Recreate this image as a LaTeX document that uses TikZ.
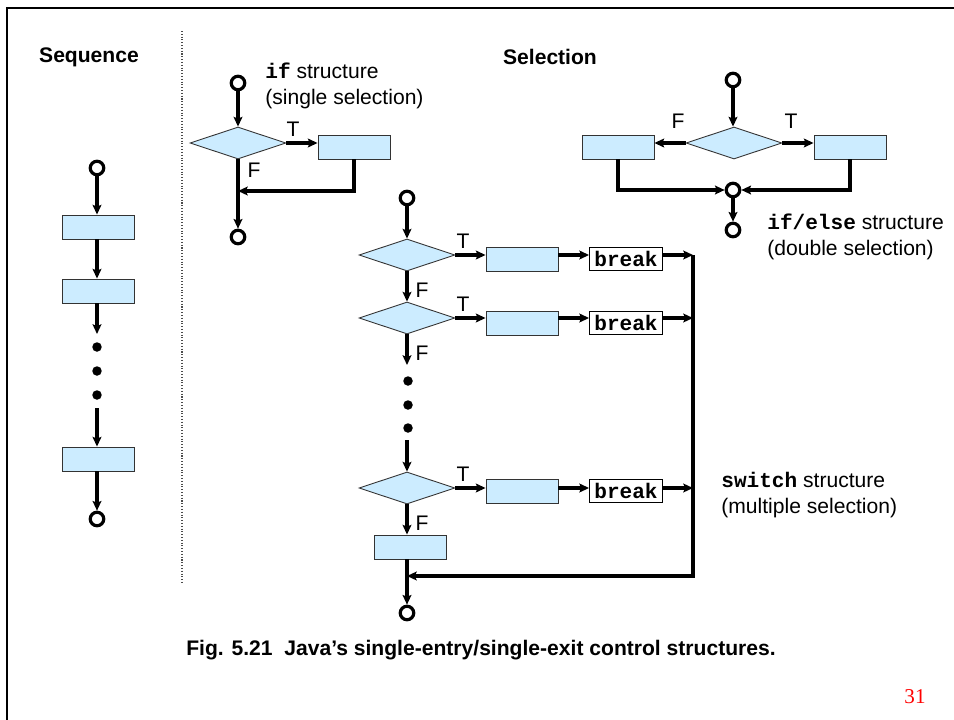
\documentclass[tikz,border=0pt]{standalone}
\usepackage{fontspec}
\setmainfont{Liberation Sans}
\setmonofont{Liberation Mono}
\newfontfamily\pagenumfont{Liberation Serif}
\usetikzlibrary{shapes.geometric,arrows.meta}
\definecolor{boxBlue}{HTML}{CCECFF}
\newcommand\slideSize{\fontsize{12}{14.5}\selectfont}
\tikzset{
  flow/.style={line width=1.8pt,-{Stealth[length=5.5pt,width=5pt,inset=1pt]}},
  term/.style={circle,draw,line width=1.8pt,minimum size=0.27cm,inner sep=0pt},
  act/.style={rectangle,draw=black!80,line width=0.5pt,fill=boxBlue,minimum width=1.44cm,minimum height=0.48cm,inner sep=0pt},
  cond/.style={diamond,draw=black!80,line width=0.5pt,fill=boxBlue,minimum width=1.92cm,minimum height=0.64cm,inner sep=0pt},
  brk/.style={rectangle,draw,line width=0.5pt,fill=white,font=\slideSize\ttfamily\bfseries,minimum width=1.46cm,minimum height=0.46cm,inner sep=0pt},
  dot/.style={circle,fill,inner sep=0pt,minimum size=0.19cm},
  note/.style={anchor=west,align=left,inner sep=0pt},
}

\begin{document}
\begin{tikzpicture}[x=0.02cm,y=-0.02cm,font=\slideSize]
\useasboundingbox (0,0) rectangle (954,720);
\draw[line width=1.7pt] (7,720) -- (7,8) -- (954,8);
\draw[black!70,densely dotted,line width=0.6pt] (182,31) -- (182,583);
\node[font=\slideSize\bfseries] (seqTitle) at (89,57) {Sequence};
\node[font=\slideSize\bfseries] (selTitle) at (550,57) {Selection};

% sequence
\node[term] (sc0) at (97,168) {};
\node[act] (sb1) at (98,227) {};
\node[act] (sb2) at (98,291) {};
\coordinate (sgapA) at (97,334);
\foreach \y [count=\i] in {347,371,395}
  \node[dot] (sd\i) at (97,\y) {};
\coordinate (sgapB) at (97,408);
\node[act] (sb3) at (98,459) {};
\node[term] (sc1) at (97,519) {};
\draw[flow] (sc0) -- (sc0 |- sb1.north);
\draw[flow] (sb1.south -| sc0) -- (sc0 |- sb2.north);
\draw[flow] (sb2.south -| sc0) -- (sgapA);
\draw[flow] (sgapB) -- (sc0 |- sb3.north);
\draw[flow] (sb3.south -| sc0) -- (sc1);

% if
\node[term] (ic0) at (238,83) {};
\node[cond] (id) at (238,143) {};
\node[act] (ib) at (354,147) {};
\node[term] (ic1) at (238,237) {};
\coordinate (ijoin) at (238,191);
\node[note] (iNote) at (265,86) {{\ttfamily\bfseries if} structure\\(single selection)};
\node (iT) at (293,129) {T};
\node (iF) at (254,170) {F};
\draw[flow] (ic0) -- (id.north);
\draw[flow] (id.east) -- (id.east -| ib.west);
\draw[flow] (id.south) -- (ic1);
\draw[flow] (ib.south) |- (ijoin);

% if/else
\node[term] (ec0) at (733,80) {};
\node[cond] (ed) at (734,143) {};
\node[act] (ebl) at (618,147) {};
\node[act] (ebr) at (850,147) {};
\node[term] (ec1) at (733,190) {};
\node[term] (ec2) at (733,230) {};
\node (eF) at (678,121) {F};
\node (eT) at (791,121) {T};
\node[note] (eNote) at (767,237) {{\ttfamily\bfseries if/else} structure\\(double selection)};
\draw[flow] (ec0) -- (ec0 |- ed.north);
\draw[flow] (ed.west) -- (ed.west -| ebl.east);
\draw[flow] (ed.east) -- (ed.east -| ebr.west);
\draw[flow] (ebl.south) |- (ec1);
\draw[flow] (ebr.south) |- (ec1);
\draw[flow] (ec1) -- (ec2);

% switch
\node[term] (wc0) at (407,198) {};
\foreach \y/\by [count=\i] in {255/259,318/323,488/491}{
  \node[cond] (wd\i) at (407,\y) {};
  \node[act] (wb\i) at (522,\by) {};
  \node[brk] (wk\i) at (626,\by) {break};
  \node (wT\i) at (463,\y-14) {T};
}
\node (wF1) at (422,290) {F};
\node (wF2) at (422,353) {F};
\node (wF3) at (422,523) {F};
\coordinate (wgapA) at (407,365);
\foreach \y [count=\i] in {381,405,428}
  \node[dot] (wdot\i) at (408,\y) {};
\coordinate (wgapB) at (407,440);
\node[act] (wb4) at (410,547) {};
\node[term] (wc1) at (407,613) {};
\coordinate (busTop) at (693,255);
\coordinate (busBot) at (693,576);
\node[note] (wNote) at (721,495) {{\ttfamily\bfseries switch} structure\\(multiple selection)};
\draw[flow] (wc0) -- (wd1.north);
\foreach \i in {1,2,3}{
  \draw[flow] (wd\i.east) -- (wd\i.east -| wb\i.west);
  \draw[flow] (wd\i.east -| wb\i.east) -- (wd\i.east -| wk\i.west);
  \draw[flow] (wd\i.east -| wk\i.east) -- (wd\i.east -| busTop);
}
\draw[flow] (wd1.south) -- (wd2.north);
\draw[flow] (wd2.south) -- (wgapA);
\draw[flow] (wgapB) -- (wd3.north);
\draw[flow] (wd3.south) -- (wd3.south |- wb4.north);
\draw[flow] (wb4.south -| wc1) -- (wc1);
\draw[flow] (busTop) |- (wc1 |- busBot);

\node[font=\slideSize\bfseries] (caption) at (481,650) {Fig. 5.21\ \ Java’s single-entry/single-exit control structures.};
\node[font=\slideSize\pagenumfont,text=red] (pageNum) at (915,697) {31};
\end{tikzpicture}
\end{document}
